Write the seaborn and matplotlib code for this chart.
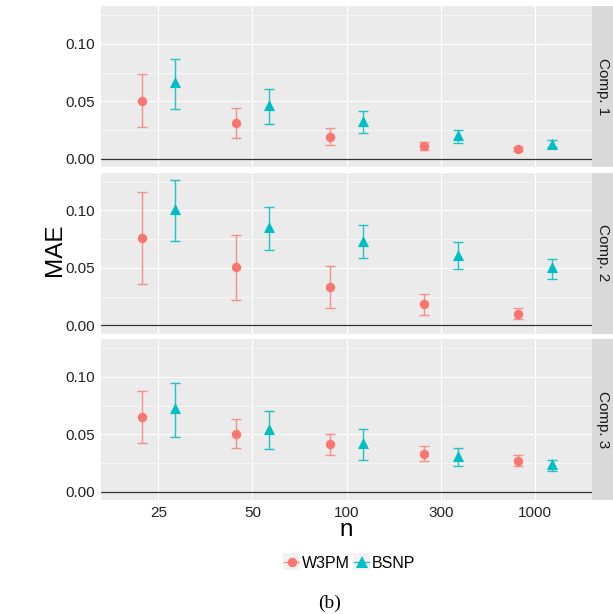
import numpy as np
import pandas as pd
import matplotlib
matplotlib.use("Agg")
import matplotlib.pyplot as plt
import seaborn as sns
from matplotlib.lines import Line2D
from matplotlib.patches import Rectangle

# ---------------- data ----------------
n_labels = ["25", "50", "100", "300", "1000"]
methods = ["W3PM", "BSNP"]
components = ["Comp. 1", "Comp. 2", "Comp. 3"]

w3pm_c1_mae = [0.0506, 0.0311, 0.0195, 0.0113, 0.0087]
w3pm_c1_lo = [0.0277, 0.0180, 0.0125, 0.0079, 0.0070]
w3pm_c1_hi = [0.0736, 0.0442, 0.0270, 0.0148, 0.0105]
bsnp_c1_mae = [0.0666, 0.0470, 0.0334, 0.0209, 0.0131]
bsnp_c1_lo = [0.0436, 0.0308, 0.0227, 0.0142, 0.0102]
bsnp_c1_hi = [0.0873, 0.0610, 0.0419, 0.0256, 0.0166]

w3pm_c2_mae = [0.0760, 0.0505, 0.0334, 0.0183, 0.0102]
w3pm_c2_lo = [0.0360, 0.0223, 0.0151, 0.0090, 0.0056]
w3pm_c2_hi = [0.1163, 0.0789, 0.0513, 0.0276, 0.0148]
bsnp_c2_mae = [0.1012, 0.0855, 0.0737, 0.0612, 0.0505]
bsnp_c2_lo = [0.0734, 0.0658, 0.0586, 0.0487, 0.0403]
bsnp_c2_hi = [0.1264, 0.1026, 0.0870, 0.0722, 0.0580]

w3pm_c3_mae = [0.0649, 0.0507, 0.0418, 0.0331, 0.0271]
w3pm_c3_lo = [0.0424, 0.0380, 0.0323, 0.0268, 0.0225]
w3pm_c3_hi = [0.0876, 0.0637, 0.0507, 0.0400, 0.0317]
bsnp_c3_mae = [0.0727, 0.0548, 0.0424, 0.0314, 0.0239]
bsnp_c3_lo = [0.0481, 0.0372, 0.0280, 0.0222, 0.0182]
bsnp_c3_hi = [0.0948, 0.0700, 0.0548, 0.0386, 0.0282]

series = {
    ("Comp. 1", "W3PM"): (w3pm_c1_mae, w3pm_c1_lo, w3pm_c1_hi),
    ("Comp. 1", "BSNP"): (bsnp_c1_mae, bsnp_c1_lo, bsnp_c1_hi),
    ("Comp. 2", "W3PM"): (w3pm_c2_mae, w3pm_c2_lo, w3pm_c2_hi),
    ("Comp. 2", "BSNP"): (bsnp_c2_mae, bsnp_c2_lo, bsnp_c2_hi),
    ("Comp. 3", "W3PM"): (w3pm_c3_mae, w3pm_c3_lo, w3pm_c3_hi),
    ("Comp. 3", "BSNP"): (bsnp_c3_mae, bsnp_c3_lo, bsnp_c3_hi),
}

rows = []
for (comp, meth), (m, lo, hi) in series.items():
    for i, lab in enumerate(n_labels):
        rows.append(dict(comp=comp, method=meth, n=lab, idx=i,
                         mae=m[i], lo=lo[i], hi=hi[i]))
df = pd.DataFrame(rows)

# ---------------- style ----------------
sns.set_style("white")
plt.rcParams["font.family"] = ["Liberation Sans", "DejaVu Sans"]

colors = {"W3PM": "#F8766D", "BSNP": "#00BFC4"}
bar_colors = {"W3PM": "#F58F88", "BSNP": "#1CC3C7"}
markers = {"W3PM": "o", "BSNP": "^"}
msize = {"W3PM": 46, "BSNP": 64}
dodge = {"W3PM": -0.177, "BSNP": 0.177}
df["xpos"] = df["idx"] + df["method"].map(dodge)

W, H = 613, 614
fig = plt.figure(figsize=(W / 100, H / 100), dpi=100)

left_px, right_px = 101.3, 592.0
panel_tops = [6.0, 172.5, 339.0]
panel_h = 161.0
strip_w = 21.0

for comp, top in zip(components, panel_tops):
    ax = fig.add_axes([left_px / W, 1 - (top + panel_h) / H,
                       (right_px - left_px) / W, panel_h / H])
    ax.set_facecolor("#EBEBEB")
    for s in ax.spines.values():
        s.set_visible(False)
    ax.set_xlim(-0.605, 4.605)
    ax.set_ylim(-0.0070, 0.1330)
    ax.set_yticks([0.0, 0.05, 0.10])
    ax.set_yticklabels(["0.00", "0.05", "0.10"])
    ax.set_yticks([0.025, 0.075, 0.125], minor=True)
    ax.set_xticks(range(len(n_labels)))
    ax.grid(which="major", axis="both", color="white", lw=0.85, zorder=0)
    ax.grid(which="minor", axis="y", color="white", lw=0.45, zorder=0)
    ax.set_axisbelow(True)
    ax.tick_params(axis="y", which="major", length=3.0, width=0.75,
                   color="#333333", labelsize=11, labelcolor="#222222", pad=1.2)
    ax.tick_params(axis="y", which="minor", length=0)
    if comp == components[-1]:
        ax.set_xticklabels(n_labels)
        ax.tick_params(axis="x", length=3.0, width=0.75, color="#333333",
                       labelsize=11, labelcolor="#222222", pad=1.2)
    else:
        ax.tick_params(axis="x", length=0, labelbottom=False)
    ax.axhline(0, color="#333333", lw=0.9, zorder=1.5)

    sub = df[df["comp"] == comp]
    for meth in methods:
        d = sub[sub["method"] == meth]
        ax.errorbar(d["xpos"], d["mae"],
                    yerr=[d["mae"] - d["lo"], d["hi"] - d["mae"]],
                    fmt="none", ecolor=bar_colors[meth],
                    elinewidth=1.0, capsize=3.4, capthick=1.0, zorder=2)
    for meth in methods:
        d = sub[sub["method"] == meth]
        sns.scatterplot(data=d, x="xpos", y="mae", ax=ax, color=colors[meth],
                        marker=markers[meth], s=msize[meth], linewidth=0,
                        zorder=3, legend=False)
    ax.set_xlabel("")
    ax.set_ylabel("")

    # facet strip on the right
    sax = fig.add_axes([right_px / W, 1 - (top + panel_h) / H,
                        strip_w / W, panel_h / H])
    sax.set_facecolor("#D9D9D9")
    for s in sax.spines.values():
        s.set_visible(False)
    sax.set_xticks([])
    sax.set_yticks([])
    sax.text(0.5, 0.5, comp, rotation=-90, ha="center", va="center",
             fontsize=11, color="#1A1A1A", transform=sax.transAxes)

# axis titles
fig.text(60.6 / W, 1 - 250.0 / H, "MAE", rotation=90, rotation_mode="anchor",
         ha="center", va="baseline", fontsize=17.5, color="black")
fig.text(346.6 / W, 1 - 536.5 / H, "n", ha="center", va="baseline",
         fontsize=17.5, color="black")

# legend (manual, ggplot-like keys)
leg_y = 561.7
for meth, kx0, tx in [("W3PM", 283.0, 301.5), ("BSNP", 353.3, 371.5)]:
    fig.add_artist(Rectangle((kx0 / W, 1 - (leg_y + 8.5) / H), 17 / W, 17 / H,
                             transform=fig.transFigure, facecolor="#F2F2F2",
                             edgecolor="none"))
    fig.add_artist(Line2D([(kx0 + 1) / W, (kx0 + 16) / W],
                          [1 - leg_y / H, 1 - leg_y / H],
                          transform=fig.transFigure, color=bar_colors[meth],
                          lw=1.0))
    fig.add_artist(Line2D([(kx0 + 8.5) / W], [1 - leg_y / H],
                          transform=fig.transFigure, color=colors[meth],
                          marker=markers[meth], linestyle="none",
                          markersize=np.sqrt(msize[meth]), markeredgewidth=0))
    fig.text(tx / W, 1 - leg_y / H, meth, ha="left", va="center_baseline",
             fontsize=11.5, color="black")

# caption
fig.text(330 / W, 1 - 603 / H, "(b)", ha="center", va="center",
         fontsize=14, family=["Liberation Serif", "DejaVu Serif"],
         color="black")

fig.savefig("out.png", dpi=100)
